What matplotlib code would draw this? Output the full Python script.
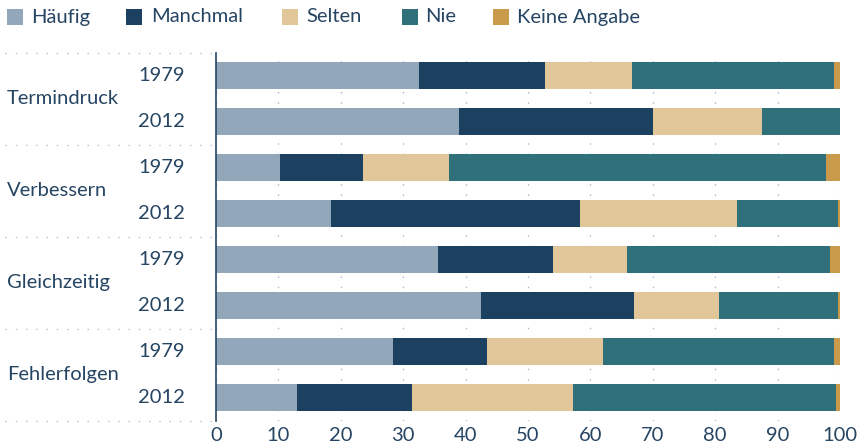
import matplotlib
matplotlib.use("Agg")
import matplotlib.pyplot as plt
from matplotlib.patches import Rectangle
import matplotlib.transforms as mtransforms
import numpy as np

plt.rcParams['font.family'] = ['Lato', 'DejaVu Sans']

categories = ["Termindruck", "Verbessern", "Gleichzeitig", "Fehlerfolgen"]
years = ["1979", "2012"]
series_names = ["Häufig", "Manchmal", "Selten", "Nie", "Keine Angabe"]
# rows: Termindruck 1979, 2012, Verbessern 1979, 2012, Gleichzeitig 1979, 2012, Fehlerfolgen 1979, 2012
haeufig  = [32.5, 38.9, 10.3, 18.4, 35.6, 42.4, 28.3, 13.0]
manchmal = [20.2, 31.1, 13.2, 39.9, 18.4, 24.6, 15.1, 18.4]
selten   = [14.0, 17.5, 13.8, 25.2, 11.9, 13.6, 18.6, 25.8]
nie      = [32.4, 12.5, 60.5, 16.2, 32.5, 19.1, 37.1, 42.2]
keine    = [0.9, 0.0, 2.2, 0.3, 1.6, 0.3, 0.9, 0.6]
xticks = [0, 10, 20, 30, 40, 50, 60, 70, 80, 90, 100]

colors = ["#93a7bb", "#1c4060", "#e1c699", "#30707a", "#c99a4a"]
text_color = "#264563"
W, H = 861, 446

fig = plt.figure(figsize=(W / 100, H / 100), dpi=100)
ax = fig.add_axes([216 / W, (H - 420.5) / H, 624 / W, 368 / H])

series = [haeufig, manchmal, selten, nie, keine]
n = len(haeufig)
ypos = np.arange(n)
left = np.zeros(n)
for vals, c in zip(series, colors):
    v = np.array(vals)
    ax.barh(ypos, v, left=left, height=0.59, color=c, linewidth=0, zorder=3)
    left += v

ax.set_xlim(0, 100)
ax.set_ylim(n - 0.5, -0.5)
ax.set_xticks(xticks)
ax.set_xticklabels([str(t) for t in xticks], fontsize=14.5, color=text_color)
ax.tick_params(axis='x', length=0, pad=5)
ax.set_yticks([])
for s in ["top", "right", "bottom"]:
    ax.spines[s].set_visible(False)
ax.spines["left"].set_color(text_color)
ax.spines["left"].set_linewidth(1.2)
ax.spines["left"].set_zorder(4)
ax.grid(axis='x', color="#a9b7c6", linestyle=(0, (1.2, 7)), linewidth=0.9, zorder=1)

# year labels and category labels
trans = mtransforms.blended_transform_factory(ax.transAxes, ax.transData)
for i in range(n):
    ax.text((185 - 216) / 624, ypos[i], years[i % 2], transform=trans,
            ha='right', va='center', fontsize=14.5, color=text_color)
for g, cat in enumerate(categories):
    ax.text((7 - 216) / 624, 2 * g + 0.5, cat, transform=trans,
            ha='left', va='center', fontsize=14.5, color=text_color)
# group separators
for b in np.arange(-0.5, n + 0.5, 2):
    ax.plot([(5 - 216) / 624, 0], [b, b], transform=trans, clip_on=False,
            color="#b5c0cc", linestyle=(0, (1.2, 7)), linewidth=0.9)

# legend
sq_x = [7, 126, 282, 402, 493]
tx_x = [31, 151, 306, 425, 517]
for name, c, sx, tx in zip(series_names, colors, sq_x, tx_x):
    fig.patches.append(Rectangle((sx / W, (H - 25) / H), 16 / W, 16 / H,
                                 transform=fig.transFigure, color=c, linewidth=0))
    fig.text(tx / W, (H - 17) / H, name, ha='left', va='center',
             fontsize=14.5, color=text_color)

fig.savefig("out.png", dpi=100)
